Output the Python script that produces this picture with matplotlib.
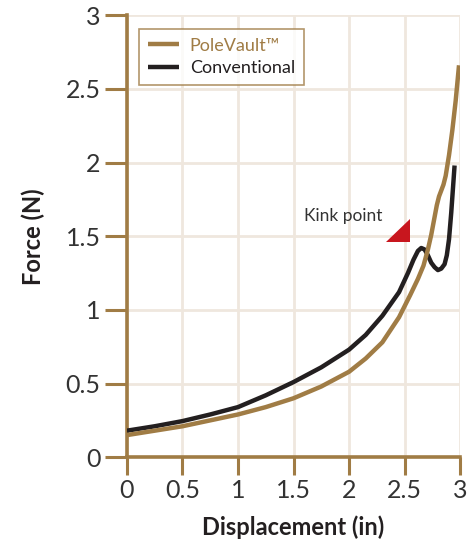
import matplotlib
matplotlib.use('Agg')
import numpy as np
from matplotlib import pyplot as plt
from matplotlib.patches import Polygon

GOLD = '#a07c45'
BLACK = '#231f20'
GRID = '#efe7de'
RED = '#c8161e'

# PoleVault curve
pv_x = [0.0, 0.25, 0.5, 0.75, 1.0, 1.25, 1.5, 1.75, 2.0, 2.15, 2.3, 2.45, 2.55, 2.62, 2.67,
        2.71, 2.74, 2.77, 2.79, 2.81, 2.83, 2.85, 2.87, 2.9, 2.93, 2.96, 2.99]
pv_y = [0.15, 0.18, 0.21, 0.25, 0.29, 0.34, 0.40, 0.48, 0.58, 0.67, 0.78, 0.95, 1.10, 1.21, 1.30,
        1.41, 1.51, 1.63, 1.71, 1.77, 1.81, 1.85, 1.91, 2.05, 2.22, 2.42, 2.66]

# Conventional curve
cv_x = [0.0, 0.25, 0.5, 0.75, 1.0, 1.25, 1.5, 1.75, 2.0, 2.15, 2.3, 2.45, 2.53, 2.58, 2.62, 2.65,
        2.68, 2.71, 2.74, 2.77, 2.80, 2.83, 2.86, 2.88, 2.90, 2.92, 2.935, 2.95]
cv_y = [0.18, 0.21, 0.245, 0.29, 0.34, 0.42, 0.51, 0.61, 0.73, 0.83, 0.96, 1.12, 1.25, 1.34, 1.40, 1.42,
        1.41, 1.37, 1.32, 1.29, 1.27, 1.28, 1.31, 1.37, 1.48, 1.66, 1.82, 1.98]

x_ticks = [0, 0.5, 1, 1.5, 2, 2.5, 3]
x_tick_labels = ['0', '0.5', '1', '1.5', '2', '2.5', '3']
y_ticks = [0, 0.5, 1, 1.5, 2, 2.5, 3]
y_tick_labels = ['0', '0.5', '1', '1.5', '2', '2.5', '3']

kink_label = 'Kink point'
kink_tri = [(2.33, 1.46), (2.55, 1.46), (2.55, 1.62)]

plt.rcParams['font.family'] = ['Lato', 'DejaVu Sans']

fig = plt.figure(figsize=(4.7, 5.43), dpi=100)
ax = fig.add_axes([0.270, 0.158, 0.709, 0.814])

ax.plot(pv_x, pv_y, color=GOLD, lw=3.2, solid_capstyle='butt', solid_joinstyle='round',
        label='PoleVault\u2122', zorder=4)
ax.plot(cv_x, cv_y, color=BLACK, lw=3.2, solid_capstyle='butt', solid_joinstyle='round',
        label='Conventional', zorder=3)

ax.add_patch(Polygon(kink_tri, closed=True, color=RED, lw=0, zorder=5))
ax.text(1.95, 1.64, kink_label, fontsize=12.5, color='#333333', ha='center', va='center')

ax.set_xlim(0, 3)
ax.set_ylim(0, 3)
ax.set_xticks(x_ticks)
ax.set_xticklabels(x_tick_labels)
ax.set_yticks(y_ticks)
ax.set_yticklabels(y_tick_labels)
ax.grid(True, color=GRID, lw=2)
ax.set_axisbelow(True)

for side in ['top', 'right']:
    ax.spines[side].set_visible(False)
for side in ['left', 'bottom']:
    ax.spines[side].set_color(GOLD)
    ax.spines[side].set_linewidth(2.6)

ax.tick_params(axis='y', direction='out', length=16, width=2.2, color=GOLD,
               labelsize=18, labelcolor='#333333', pad=3)
ax.tick_params(axis='x', direction='out', length=13, width=2.2, color=GOLD,
               labelsize=18, labelcolor='#333333', pad=3)

ax.set_xlabel('Displacement (in)', fontsize=17, fontweight='bold', color='#231f20', labelpad=9)
ax.set_ylabel('Force (N)', fontsize=17, fontweight='bold', color='#231f20', labelpad=15)

leg = ax.legend(loc='upper left', bbox_to_anchor=(0.01, 0.99), fontsize=13, frameon=True,
                fancybox=False, handlelength=1.7, handletextpad=0.6, borderpad=0.5,
                labelspacing=0.35)
leg.get_frame().set_edgecolor(GOLD)
leg.get_frame().set_linewidth(1.2)
leg.get_texts()[0].set_color(GOLD)
leg.get_texts()[1].set_color(BLACK)

plt.savefig('out.png', dpi=100)
